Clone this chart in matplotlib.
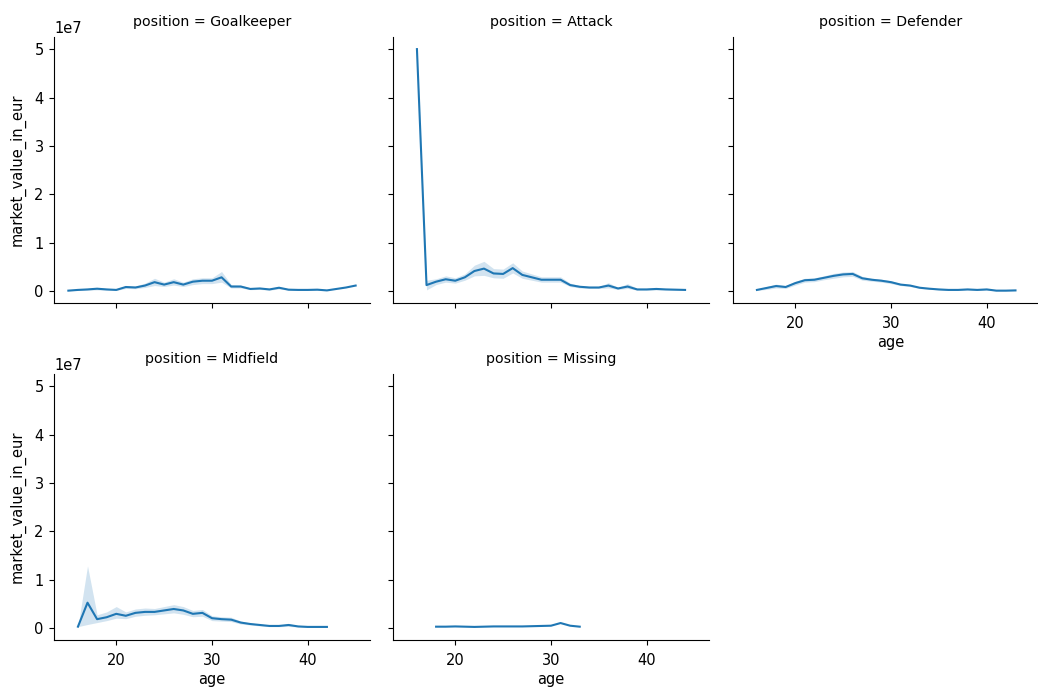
import matplotlib
matplotlib.use("Agg")
import matplotlib.pyplot as plt
import numpy as np

# values, in millions of EUR
positions = ["Goalkeeper", "Attack", "Defender", "Midfield", "Missing"]

gk_age = list(range(15, 46))
gk_mean = [0.15, 0.3, 0.4, 0.55, 0.4, 0.3, 0.9, 0.8, 1.2, 1.9, 1.4, 1.9, 1.4, 2.0, 2.2, 2.2,
           2.9, 1.0, 1.0, 0.5, 0.6, 0.4, 0.75, 0.35, 0.3, 0.3, 0.35, 0.2, 0.5, 0.8, 1.2]
gk_lo = [0.15, 0.2, 0.25, 0.3, 0.25, 0.2, 0.6, 0.55, 0.8, 1.2, 1.0, 1.3, 1.0, 1.4, 1.6, 1.6,
         1.9, 0.7, 0.7, 0.35, 0.4, 0.25, 0.5, 0.25, 0.2, 0.2, 0.25, 0.2, 0.5, 0.8, 1.2]
gk_hi = [0.15, 0.4, 0.6, 0.8, 0.6, 0.45, 1.2, 1.1, 1.7, 2.7, 1.9, 2.6, 1.9, 2.6, 2.8, 2.8,
         4.1, 1.4, 1.3, 0.7, 0.8, 0.6, 1.0, 0.5, 0.45, 0.4, 0.5, 0.2, 0.5, 0.8, 1.2]

att_age = list(range(16, 45))
att_mean = [50.0, 1.3, 2.0, 2.5, 2.2, 2.9, 4.2, 4.7, 3.7, 3.6, 4.8, 3.4, 2.9, 2.4, 2.4,
            2.4, 1.3, 0.95, 0.8, 0.8, 1.2, 0.6, 1.0, 0.4, 0.4, 0.5, 0.4, 0.35, 0.3]
att_lo = [50.0, 0.3, 1.4, 1.9, 1.7, 2.3, 3.2, 3.3, 2.8, 2.7, 3.8, 2.7, 2.3, 1.9, 1.9,
          1.9, 1.0, 0.7, 0.6, 0.6, 0.7, 0.4, 0.6, 0.25, 0.25, 0.3, 0.3, 0.25, 0.3]
att_hi = [50.0, 2.3, 2.6, 3.2, 2.8, 3.6, 5.4, 6.2, 4.7, 4.6, 5.9, 4.2, 3.6, 3.0, 3.0,
          3.0, 1.7, 1.2, 1.0, 1.0, 1.8, 0.8, 1.6, 0.6, 0.6, 0.8, 0.5, 0.45, 0.3]

def_age = list(range(16, 44))
def_mean = [0.3, 0.7, 1.1, 0.9, 1.7, 2.3, 2.4, 2.8, 3.2, 3.5, 3.6, 2.7, 2.4, 2.2, 1.9,
            1.4, 1.2, 0.75, 0.55, 0.4, 0.3, 0.3, 0.4, 0.3, 0.4, 0.15, 0.15, 0.2]
def_lo = [0.2, 0.4, 0.7, 0.6, 1.3, 1.9, 2.0, 2.4, 2.7, 3.0, 3.1, 2.3, 2.1, 1.9, 1.6,
          1.2, 1.0, 0.6, 0.45, 0.3, 0.2, 0.2, 0.3, 0.2, 0.3, 0.1, 0.1, 0.15]
def_hi = [0.4, 1.0, 1.5, 1.2, 2.1, 2.7, 2.8, 3.2, 3.7, 4.0, 4.1, 3.1, 2.7, 2.5, 2.2,
          1.6, 1.4, 0.9, 0.65, 0.5, 0.4, 0.4, 0.5, 0.4, 0.5, 0.2, 0.2, 0.25]

mid_age = list(range(16, 43))
mid_mean = [0.35, 5.3, 1.9, 2.3, 3.0, 2.6, 3.2, 3.4, 3.4, 3.7, 4.0, 3.7, 3.0, 3.2, 2.1,
            1.9, 1.8, 1.2, 0.9, 0.7, 0.5, 0.5, 0.7, 0.4, 0.3, 0.3, 0.3]
mid_lo = [0.35, 0.8, 1.2, 1.6, 2.1, 2.0, 2.5, 2.7, 2.8, 3.0, 3.2, 2.9, 2.4, 2.5, 1.6,
          1.5, 1.4, 0.9, 0.7, 0.5, 0.35, 0.35, 0.4, 0.3, 0.2, 0.2, 0.2]
mid_hi = [0.35, 12.9, 2.8, 3.4, 4.5, 3.4, 4.0, 4.2, 4.1, 4.5, 4.9, 4.5, 3.7, 3.9, 2.6,
          2.4, 2.3, 1.5, 1.1, 0.9, 0.65, 0.65, 1.0, 0.5, 0.4, 0.4, 0.4]

mis_age = list(range(18, 34))
mis_mean = [0.35, 0.35, 0.4, 0.35, 0.3, 0.35, 0.4, 0.4, 0.4, 0.4, 0.45, 0.5, 0.55, 1.1,
            0.55, 0.35]

series = {
    "Goalkeeper": (gk_age, gk_mean, gk_lo, gk_hi),
    "Attack": (att_age, att_mean, att_lo, att_hi),
    "Defender": (def_age, def_mean, def_lo, def_hi),
    "Midfield": (mid_age, mid_mean, mid_lo, mid_hi),
    "Missing": (mis_age, mis_mean, mis_mean, mis_mean),
}

plt.rcParams["font.size"] = 10.5
blue = "#1f77b4"

fig = plt.figure(figsize=(10.38, 6.89), dpi=100)
W, H = 1038, 689
lefts = [54, 393, 733]
tops = [37, 374]
aw, ah = 316, 266

for i, pos in enumerate(positions):
    r, c = divmod(i, 3)
    ax = fig.add_axes([lefts[c] / W, 1 - (tops[r] + ah) / H, aw / W, ah / H])
    age, mean, lo, hi = series[pos]
    scale = 1e6
    ax.fill_between(age, np.array(lo) * scale, np.array(hi) * scale,
                    color=blue, alpha=0.2, linewidth=0)
    ax.plot(age, np.array(mean) * scale, color=blue, lw=1.5)
    ax.set_xlim(13.5, 46.5)
    ax.set_ylim(-0.24e7, 5.25e7)
    ax.set_xticks([20, 30, 40])
    ax.set_yticks([0, 1e7, 2e7, 3e7, 4e7, 5e7])
    ax.tick_params(axis="x", pad=6)
    ax.tick_params(axis="y", pad=4)
    ax.spines["top"].set_visible(False)
    ax.spines["right"].set_visible(False)
    ax.set_title("position = " + pos, fontsize=10.2, pad=8)
    if c == 0:
        ax.set_ylabel("market_value_in_eur")
        ax.yaxis.set_label_coords(-0.09, 0.5)
    else:
        ax.tick_params(labelleft=False)
    if pos in ("Goalkeeper", "Attack"):
        ax.tick_params(labelbottom=False)
    else:
        ax.set_xlabel("age", labelpad=3)

fig.savefig("out.png", dpi=100)
